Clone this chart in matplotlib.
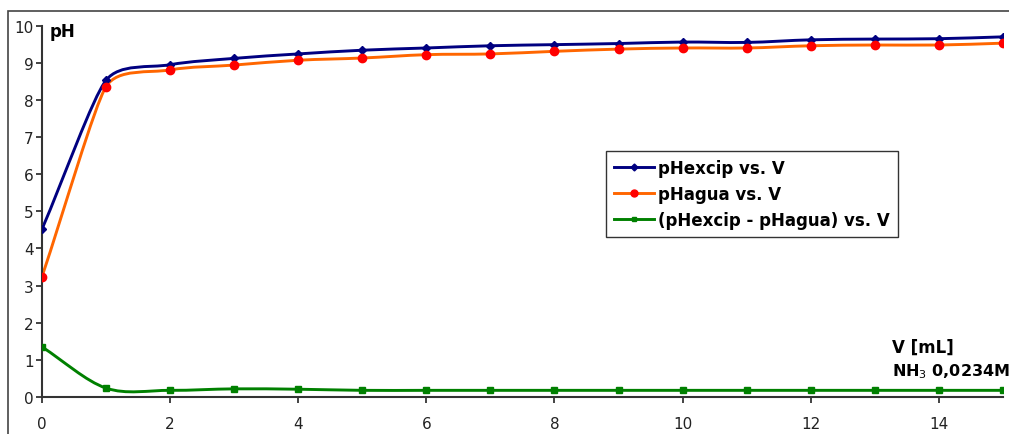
import matplotlib.pyplot as plt
from matplotlib.path import Path
from matplotlib.patches import PathPatch, Rectangle
from matplotlib.lines import Line2D
import numpy as np

plt.rcParams['font.family'] = ['DejaVu Sans']

# data
V = [0, 1, 2, 3, 4, 5, 6, 7, 8, 9, 10, 11, 12, 13, 14, 15]
pH_excip = [4.52, 8.53, 8.95, 9.12, 9.24, 9.34, 9.40, 9.46, 9.49, 9.52,
            9.56, 9.55, 9.62, 9.64, 9.65, 9.70]
pH_agua = [3.24, 8.36, 8.81, 8.94, 9.07, 9.13, 9.22, 9.24, 9.31, 9.37,
           9.40, 9.40, 9.46, 9.48, 9.48, 9.53]
pH_diff = [1.35, 0.24, 0.18, 0.22, 0.21, 0.18, 0.18, 0.18, 0.18, 0.18,
           0.18, 0.18, 0.18, 0.18, 0.18, 0.18]

labels = ['pHexcip vs. V', 'pHagua vs. V', '(pHexcip - pHagua) vs. V']


def smooth_path(ax, x, y):
    # excel-like smoothed line, built in screen space; the handle length
    # at each point is limited by its shorter neighbouring segment
    tr = ax.transData
    pts = tr.transform(np.column_stack([x, y]).astype(float))
    n = len(pts)
    seglen = np.hypot(*np.diff(pts, axis=0).T)
    tang, hlen = [], []
    for i in range(n):
        d = pts[min(i + 1, n - 1)] - pts[max(i - 1, 0)]
        tang.append(d / np.hypot(*d))
        near = seglen[max(i - 1, 0):min(i + 1, n - 1)]
        hlen.append(near.min() / 3)
    verts = [pts[0]]
    codes = [Path.MOVETO]
    for i in range(n - 1):
        verts += [pts[i] + tang[i] * hlen[i],
                  pts[i + 1] - tang[i + 1] * hlen[i + 1], pts[i + 1]]
        codes += [Path.CURVE4] * 3
    return Path(tr.inverted().transform(np.array(verts)), codes)


fig = plt.figure(figsize=(10.09, 4.35), dpi=100)
ax = fig.add_axes([0.0416, 0.085, 0.9524, 0.8536])
ax.set_xlim(0, 15)
ax.set_ylim(0, 10)

series = [
    (pH_excip, '#000080', 'D', '#000080', 4.5),
    (pH_agua, '#FF6600', 'o', '#FF0000', 6),
    (pH_diff, '#008000', 's', '#008000', 4.5),
]
handles = []
for (y, col, mk, mcol, ms), lab in zip(series, labels):
    ax.add_patch(PathPatch(smooth_path(ax, V, y), facecolor='none',
                           edgecolor=col, lw=2.1, zorder=2))
    ax.plot(V, y, ls='none', marker=mk, color=mcol, ms=ms, zorder=3)
    handles.append(Line2D([], [], color=col, lw=2.1, marker=mk, mfc=mcol,
                          mec=mcol, ms=ms - 1))

ax.set_xticks(range(0, 15, 2))
ax.set_yticks(range(0, 11))
ax.tick_params(labelsize=11, colors='#222222', length=4, width=1.2)
ax.tick_params(axis='y', direction='out', pad=2)
ax.tick_params(axis='x', direction='out', pad=10)
for s in ['top', 'right']:
    ax.spines[s].set_visible(False)
for s in ['left', 'bottom']:
    ax.spines[s].set_color('#333333')
    ax.spines[s].set_linewidth(1.5)

ax.text(0.008, 1.01, 'pH', transform=ax.transAxes, fontsize=12,
        fontweight='bold', va='top', ha='left')
ax.text(0.885, 0.135, 'V [mL]', transform=ax.transAxes, fontsize=12,
        fontweight='bold', va='center', ha='left')
ax.text(0.885, 0.072, 'NH$_3$ 0,0234M', transform=ax.transAxes, fontsize=11.5,
        fontweight='bold', va='center', ha='left')

leg = fig.legend(handles, labels, loc='upper left',
                 bbox_to_anchor=(606 / 1009, 1 - 152 / 435),
                 prop={'weight': 'bold', 'size': 12}, frameon=True,
                 fancybox=False, edgecolor='black', handlelength=2.4,
                 handletextpad=0.3, borderpad=0.45, labelspacing=0.5,
                 borderaxespad=0)
leg.get_frame().set_linewidth(1.0)

# outer chart frame
fig.patches.append(Rectangle((8 / 1009, -0.1), 1.2, 1 - 12 / 435 + 0.1,
                             transform=fig.transFigure, fill=False,
                             edgecolor='#444444', lw=1.2))

fig.savefig('out.png', dpi=100)
